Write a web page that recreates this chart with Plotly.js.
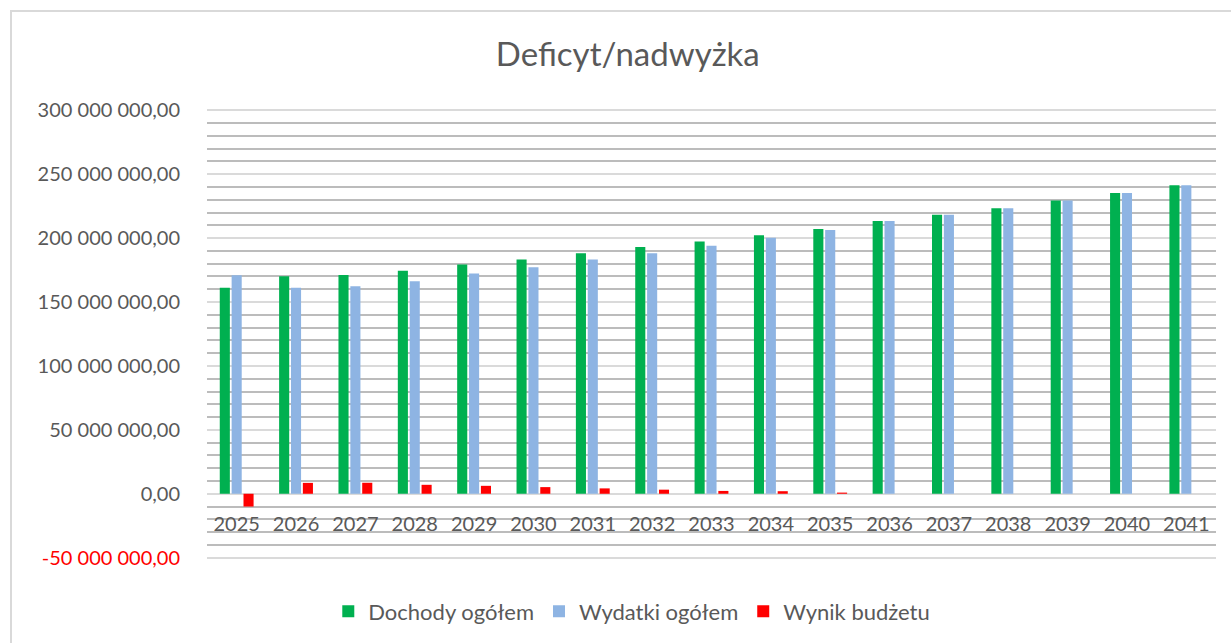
<!DOCTYPE html>
<html>
<head>
<meta charset="utf-8">
<script src="https://cdn.plot.ly/plotly-3.0.1.min.js"></script>
<style>
  html, body { margin: 0; padding: 0; background: #ffffff; overflow: hidden; }
  #chart { position: absolute; left: 0; top: 0; width: 1231px; height: 643px; }
  #frame { position: absolute; left: 10px; top: 10px; width: 1300px; height: 700px;
           border-left: 2px solid #d9d9d9; border-top: 2px solid #d9d9d9; pointer-events: none; }
</style>
</head>
<body>
<div id="chart"></div>
<div id="frame"></div>
<script>
// ---- data ----
const years = ['2025','2026','2027','2028','2029','2030','2031','2032','2033','2034','2035','2036','2037','2038','2039','2040','2041'];
const dochody = [161100000, 170200000, 171200000, 174400000, 179300000, 183200000, 188100000, 193100000, 197300000, 202200000, 207200000, 213400000, 218400000, 223300000, 229500000, 235300000, 241300000];
const wydatki = [170900000, 161100000, 162400000, 166300000, 172300000, 177200000, 183200000, 188100000, 194100000, 200400000, 206400000, 213400000, 218400000, 223300000, 229500000, 235300000, 241300000];
const wynik   = [-10000000, 8500000, 8600000, 7000000, 6200000, 5200000, 4200000, 3200000, 2200000, 2000000, 900000, 0, 0, 0, 0, 0, 0];
const seriesNames = ['Dochody ogółem', 'Wydatki ogółem', 'Wynik budżetu'];
const yTickVals = [-50000000, 0, 50000000, 100000000, 150000000, 200000000, 250000000, 300000000];
const yMin = -50000000, yMax = 300000000;
const chartTitle = 'Deficyt/nadwyżka';

// ---- helpers ----
function fmt(v) {
  const neg = v < 0;
  let s = Math.abs(Math.round(v)).toString().replace(/\B(?=(\d{3})+(?!\d))/g, ' ');
  s = (neg ? '-' : '') + s + ',00';
  return neg ? '<span style="color:#ff0000">' + s + '</span>' : s;
}
const yTickText = yTickVals.map(fmt);
// tiny padding so the edge gridlines (-50 mln and 300 mln) are drawn
const pad = (yMax - yMin) * 0.003;
const yRange = [yMin - pad, yMax + pad];
const zeroPos = (0 - yRange[0]) / (yRange[1] - yRange[0]);

const colors = ['#00b050', '#8eb4e3', '#ff0000'];
const traces = [dochody, wydatki, wynik].map((vals, i) => ({
  type: 'bar',
  name: seriesNames[i],
  x: years,
  y: vals,
  marker: { color: colors[i], line: { width: 0 } },
  hoverinfo: 'x+y+name'
}));

const font = 'Lato, "Open Sans", "DejaVu Sans", sans-serif';

const layout = {
  width: 1231,
  height: 643,
  paper_bgcolor: 'rgba(0,0,0,0)',
  plot_bgcolor: 'rgba(0,0,0,0)',
  margin: { l: 207, r: 15, t: 109, b: 83, pad: 0 },
  font: { family: font, color: '#595959', size: 20 },
  title: {
    text: chartTitle,
    font: { family: font, size: 33, color: '#595959' },
    x: 0.51, xref: 'container', xanchor: 'center',
    y: 57, yref: 'container', yanchor: 'middle'
  },
  barmode: 'group',
  bargap: 0.4,
  bargroupgap: 0.15,
  showlegend: true,
  legend: {
    orientation: 'h',
    x: 0.421, xanchor: 'center',
    y: -0.114, yanchor: 'middle',
    font: { family: font, size: 22, color: '#595959' },
    itemwidth: 30,
    traceorder: 'normal'
  },
  xaxis: {
    type: 'category',
    anchor: 'free',
    position: zeroPos,
    showgrid: false,
    showline: false,
    zeroline: false,
    ticks: '',
    ticklabelstandoff: 16,
    tickfont: { family: font, size: 20, color: '#595959' },
    fixedrange: true
  },
  yaxis: {
    range: yRange,
    tickmode: 'array',
    tickvals: yTickVals,
    ticktext: yTickText,
    showgrid: true,
    gridcolor: '#dadada',
    gridwidth: 2,
    zeroline: false,
    showline: false,
    ticks: '',
    ticklabelstandoff: 26,
    tickfont: { family: font, size: 20, color: '#595959' },
    minor: {
      tickmode: 'linear',
      tick0: 0,
      dtick: 10000000,
      showgrid: true,
      gridcolor: '#bcbcbc',
      gridwidth: 2,
      ticks: ''
    },
    fixedrange: true
  }
};

Plotly.newPlot('chart', traces, layout, { displayModeBar: false, staticPlot: true });
</script>
</body>
</html>
